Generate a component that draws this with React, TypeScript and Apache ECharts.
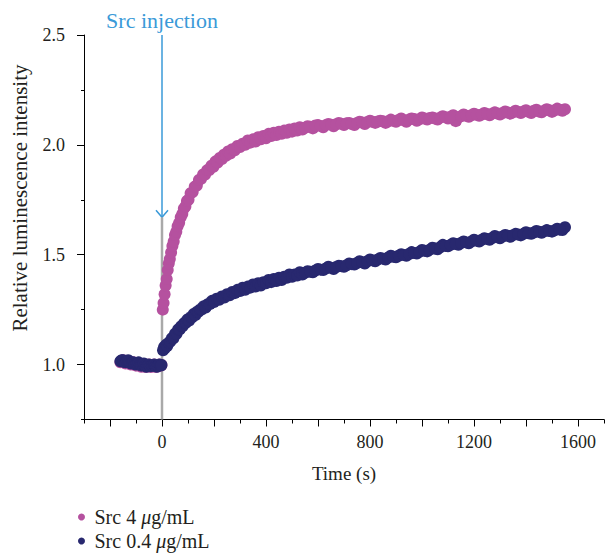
import React, { useEffect, useRef } from "react";
import * as echarts from "echarts";

// Time (s), relative luminescence intensity
const pinkPre: [number, number][] = [
  [-160, 1.01], [-155, 1.015], [-150, 1.02], [-145, 1.01], [-140, 1.005], [-135, 1.012], [-130, 1.015],
  [-125, 1.005], [-120, 1.0], [-115, 1.008], [-110, 1.01], [-105, 1.0], [-100, 0.995], [-95, 1.0], [-90, 1.005],
  [-85, 0.995], [-80, 0.99], [-75, 0.995], [-70, 1.0], [-65, 0.99], [-60, 0.99], [-55, 0.995], [-50, 1.0],
  [-45, 0.99], [-40, 0.99], [-35, 0.995], [-30, 1.0], [-25, 0.99], [-20, 0.99], [-15, 0.995], [-10, 1.0],
  [-5, 0.995], [-2, 0.998],
];
const pinkPost: [number, number][] = [
  [3, 1.25], [6, 1.28], [10, 1.32], [14, 1.36], [18, 1.39], [22, 1.43], [26, 1.46], [30, 1.48], [35, 1.51],
  [40, 1.54], [45, 1.56], [50, 1.59], [55, 1.605], [60, 1.63], [66, 1.645], [72, 1.67], [78, 1.685], [84, 1.71],
  [90, 1.72], [96, 1.745], [102, 1.75], [110, 1.78], [118, 1.785], [126, 1.81], [134, 1.815], [142, 1.84],
  [150, 1.845], [158, 1.865], [166, 1.865], [174, 1.885], [182, 1.885], [190, 1.905], [198, 1.9], [206, 1.925],
  [214, 1.92], [222, 1.94], [230, 1.935], [238, 1.955], [246, 1.95], [254, 1.97], [262, 1.96], [270, 1.98],
  [280, 1.975], [290, 1.995], [300, 1.99], [310, 2.005], [320, 2.0], [330, 2.02], [340, 2.01], [350, 2.025],
  [360, 2.015], [370, 2.035], [380, 2.025], [390, 2.04], [400, 2.03], [410, 2.05], [420, 2.04], [430, 2.055],
  [440, 2.045], [450, 2.06], [460, 2.05], [470, 2.065], [480, 2.055], [490, 2.07], [500, 2.06], [510, 2.075],
  [520, 2.065], [530, 2.08], [540, 2.07], [560, 2.085], [580, 2.075], [600, 2.09], [620, 2.08], [640, 2.095],
  [660, 2.085], [680, 2.1], [700, 2.09], [720, 2.1], [740, 2.09], [760, 2.105], [780, 2.095], [800, 2.11],
  [820, 2.1], [840, 2.11], [860, 2.1], [880, 2.115], [900, 2.105], [920, 2.12], [940, 2.105], [960, 2.12],
  [980, 2.11], [1000, 2.125], [1020, 2.115], [1040, 2.125], [1060, 2.115], [1080, 2.13], [1100, 2.12],
  [1120, 2.135], [1130, 2.108], [1140, 2.125], [1160, 2.138], [1180, 2.128], [1200, 2.142], [1220, 2.132],
  [1240, 2.145], [1260, 2.135], [1280, 2.148], [1300, 2.138], [1320, 2.152], [1340, 2.142], [1360, 2.155],
  [1380, 2.145], [1400, 2.158], [1420, 2.145], [1440, 2.16], [1460, 2.148], [1480, 2.162], [1500, 2.15],
  [1520, 2.165], [1540, 2.155], [1550, 2.162],
];
const pinkMid: [number, number][] = [
  [550, 2.078], [570, 2.082], [590, 2.088], [610, 2.086], [630, 2.09], [650, 2.092], [670, 2.094], [690, 2.096],
  [710, 2.098], [730, 2.095], [750, 2.1], [770, 2.102], [790, 2.104], [810, 2.105], [830, 2.106], [850, 2.108],
  [870, 2.107], [890, 2.11], [910, 2.113], [930, 2.112], [950, 2.115], [970, 2.118], [990, 2.116], [1010, 2.12],
  [1030, 2.122], [1050, 2.12], [1070, 2.124], [1090, 2.126], [1110, 2.128], [1150, 2.13], [1170, 2.132],
  [1190, 2.135], [1210, 2.137], [1230, 2.138], [1250, 2.14], [1270, 2.142], [1290, 2.143], [1310, 2.145],
  [1330, 2.147], [1350, 2.148], [1370, 2.15], [1390, 2.152], [1410, 2.15], [1430, 2.155], [1450, 2.152],
  [1470, 2.156], [1490, 2.158], [1510, 2.157], [1530, 2.16],
];
const navyPre: [number, number][] = [
  [-160, 1.015], [-155, 1.02], [-150, 1.02], [-145, 1.012], [-140, 1.01], [-135, 1.015], [-130, 1.02],
  [-125, 1.01], [-120, 1.005], [-115, 1.008], [-110, 1.01], [-105, 1.002], [-100, 1.0], [-95, 1.005],
  [-90, 1.01], [-85, 1.0], [-80, 0.995], [-75, 1.0], [-70, 1.005], [-65, 0.995], [-60, 0.99], [-55, 0.995],
  [-50, 1.0], [-45, 0.992], [-40, 0.995], [-35, 0.998], [-30, 1.0], [-25, 0.993], [-20, 0.99], [-15, 0.995],
  [-10, 1.0], [-5, 0.996], [-2, 0.998],
];
const navyPost: [number, number][] = [
  [4, 1.065], [8, 1.08], [12, 1.075], [16, 1.09], [20, 1.085], [26, 1.1], [32, 1.105], [38, 1.12], [44, 1.12],
  [50, 1.14], [56, 1.14], [62, 1.16], [68, 1.16], [74, 1.175], [80, 1.175], [86, 1.19], [92, 1.19], [98, 1.205],
  [104, 1.2], [110, 1.215], [116, 1.215], [122, 1.23], [128, 1.225], [134, 1.24], [140, 1.24], [146, 1.25],
  [152, 1.25], [160, 1.265], [168, 1.26], [176, 1.275], [184, 1.275], [192, 1.29], [200, 1.285], [210, 1.3],
  [220, 1.295], [230, 1.31], [240, 1.305], [250, 1.32], [260, 1.315], [270, 1.33], [280, 1.325], [290, 1.34],
  [300, 1.335], [310, 1.35], [320, 1.34], [330, 1.355], [340, 1.35], [350, 1.365], [360, 1.355], [370, 1.37],
  [380, 1.36], [390, 1.375], [400, 1.37], [410, 1.385], [420, 1.375], [430, 1.39], [440, 1.38], [450, 1.395],
  [460, 1.385], [470, 1.4], [480, 1.395], [490, 1.41], [500, 1.4], [510, 1.41], [520, 1.405], [530, 1.42],
  [540, 1.41], [560, 1.425], [580, 1.42], [600, 1.435], [620, 1.43], [640, 1.445], [660, 1.435], [680, 1.45],
  [700, 1.445], [720, 1.46], [740, 1.455], [760, 1.47], [780, 1.46], [800, 1.478], [820, 1.47], [840, 1.485],
  [860, 1.478], [880, 1.495], [900, 1.488], [920, 1.502], [940, 1.495], [960, 1.512], [980, 1.505],
  [1000, 1.522], [1020, 1.515], [1040, 1.532], [1060, 1.525], [1080, 1.545], [1100, 1.538], [1120, 1.552],
  [1140, 1.545], [1160, 1.56], [1180, 1.552], [1200, 1.568], [1220, 1.56], [1240, 1.575], [1260, 1.568],
  [1280, 1.585], [1300, 1.575], [1320, 1.59], [1340, 1.582], [1360, 1.595], [1380, 1.588], [1400, 1.602],
  [1420, 1.595], [1440, 1.608], [1460, 1.6], [1480, 1.612], [1500, 1.605], [1520, 1.618], [1540, 1.612],
  [1550, 1.625],
];
const navyMid: [number, number][] = [
  [550, 1.418], [570, 1.422], [590, 1.428], [610, 1.432], [630, 1.437], [650, 1.44], [670, 1.444], [690, 1.448],
  [710, 1.452], [730, 1.457], [750, 1.462], [770, 1.466], [790, 1.47], [810, 1.474], [830, 1.478], [850, 1.482],
  [870, 1.487], [890, 1.491], [910, 1.495], [930, 1.499], [950, 1.503], [970, 1.508], [990, 1.513], [1010, 1.518],
  [1030, 1.523], [1050, 1.528], [1070, 1.534], [1090, 1.54], [1110, 1.545], [1130, 1.549], [1150, 1.553],
  [1170, 1.556], [1190, 1.56], [1210, 1.564], [1230, 1.568], [1250, 1.572], [1270, 1.576], [1290, 1.58],
  [1310, 1.583], [1330, 1.586], [1350, 1.589], [1370, 1.592], [1390, 1.595], [1410, 1.598], [1430, 1.601],
  [1450, 1.604], [1470, 1.606], [1490, 1.608], [1510, 1.611], [1530, 1.614],
];

const seriesNames = ["Src 4 μg/mL", "Src 0.4 μg/mL"];
const xMajorTicks = [-200, 0, 200, 400, 600, 800, 1000, 1200, 1400, 1600];
const xLabels = [0, 400, 800, 1200, 1600];
const yLabels = [1.0, 1.5, 2.0, 2.5];
const injectionTime = 0;
const arrowTip = 1.67;

const FONT = "'Liberation Serif', 'DejaVu Serif', serif";
const PINK = "#b5519f";
const NAVY = "#28286f";
const BLUE = "#3a9ad8";
const TEXT = "#231f20";

export default function App() {
  const ref = useRef<HTMLDivElement>(null);
  useEffect(() => {
    document.body.style.margin = "0";
    if (!ref.current) return;
    const chart = echarts.init(ref.current, null, { renderer: "svg" });
    const axisLineStyle = { color: "#000", width: 1 };
    const option: any = {
      animation: false,
      grid: { left: 84, right: 1, top: 35, bottom: 134.5, containLabel: false },
      legend: {
        orient: "vertical",
        left: 78,
        top: 507,
        padding: 0,
        itemWidth: 16,
        itemHeight: 7,
        itemGap: 4,
        icon: "circle",
        data: seriesNames,
        formatter: (n: string) => n.replace("μ", "{i|μ}"),
        textStyle: {
          fontFamily: FONT,
          fontSize: 20,
          color: TEXT,
          rich: { i: { fontFamily: FONT, fontSize: 20, fontStyle: "italic", color: TEXT } },
        },
      },
      xAxis: [
        {
          type: "value",
          min: -300,
          max: 1700,
          interval: 100,
          axisLine: { show: true, onZero: false, lineStyle: axisLineStyle },
          axisTick: { show: true, length: 4, lineStyle: axisLineStyle },
          axisLabel: { show: false },
          splitLine: { show: false },
          name: "Time (s)",
          nameLocation: "middle",
          nameGap: 44,
          nameTextStyle: { fontFamily: FONT, fontSize: 19, color: TEXT },
        },
        {
          type: "value",
          min: -300,
          max: 1700,
          position: "bottom",
          offset: 0,
          axisLine: { show: false, onZero: false },
          axisTick: { show: true, length: 7, customValues: xMajorTicks, lineStyle: axisLineStyle },
          axisLabel: {
            show: true,
            customValues: xLabels,
            formatter: (v: number) => String(v),
            margin: 13,
            fontFamily: FONT,
            fontSize: 18,
            color: TEXT,
          },
          splitLine: { show: false },
        },
      ],
      yAxis: [
        {
          type: "value",
          min: 0.75,
          max: 2.5,
          interval: 0.25,
          position: "left",
          axisLine: { show: true, onZero: false, lineStyle: axisLineStyle },
          axisTick: { show: true, length: 3, lineStyle: axisLineStyle },
          axisLabel: { show: false },
          splitLine: { show: false },
        },
        {
          type: "value",
          min: 0.75,
          max: 2.5,
          position: "left",
          offset: 0,
          axisLine: { show: false, onZero: false },
          axisTick: { show: true, length: 7, customValues: yLabels, lineStyle: axisLineStyle },
          axisLabel: {
            show: true,
            customValues: yLabels,
            formatter: (v: number) => v.toFixed(1),
            margin: 19,
            fontFamily: FONT,
            fontSize: 18,
            color: TEXT,
          },
          splitLine: { show: false },
        },
      ],
      series: [
        {
          name: seriesNames[0],
          type: "scatter",
          xAxisIndex: 0,
          yAxisIndex: 0,
          symbol: "circle",
          symbolSize: 12,
          itemStyle: { color: PINK, opacity: 1 },
          data: [...pinkPre, ...pinkPost, ...pinkMid],
          z: 3,
        },
        {
          name: seriesNames[1],
          type: "scatter",
          xAxisIndex: 0,
          yAxisIndex: 0,
          symbol: "circle",
          symbolSize: 12,
          itemStyle: { color: NAVY, opacity: 1 },
          data: [...navyPre, ...navyPost, ...navyMid],
          z: 4,
        },
      ],
    };
    chart.setOption(option);

    const toPx = (x: number, y: number) =>
      chart.convertToPixel({ seriesIndex: 0 }, [x, y]) as number[];
    const top = toPx(injectionTime, 2.5);
    const tip = toPx(injectionTime, arrowTip);
    const bottom = toPx(injectionTime, 0.75);
    chart.setOption({
      graphic: [
        {
          type: "line",
          z: 1,
          shape: { x1: tip[0], y1: tip[1], x2: bottom[0], y2: bottom[1] },
          style: { stroke: "#a9a9a9", lineWidth: 2.5 },
        },
        {
          type: "line",
          shape: { x1: top[0], y1: top[1], x2: tip[0], y2: tip[1] },
          style: { stroke: BLUE, lineWidth: 1.5 },
        },
        {
          type: "polyline",
          shape: { points: [[tip[0] - 6, tip[1] - 7], [tip[0], tip[1]], [tip[0] + 6, tip[1] - 7]] },
          style: { stroke: BLUE, lineWidth: 1.5, fill: "none" },
        },
        {
          type: "text",
          x: top[0],
          y: top[1] - 15,
          style: {
            text: "Src injection",
            fontFamily: FONT,
            fontSize: 22,
            fill: BLUE,
            align: "center",
            verticalAlign: "middle",
          },
        },
        {
          type: "text",
          x: 20,
          y: 198,
          rotation: Math.PI / 2,
          style: {
            text: "Relative luminescence intensity",
            fontFamily: FONT,
            fontSize: 21,
            fill: TEXT,
            align: "center",
            verticalAlign: "middle",
          },
        },
      ],
    });
    return () => chart.dispose();
  }, []);
  return <div ref={ref} style={{ width: 605, height: 554 }} />;
}
